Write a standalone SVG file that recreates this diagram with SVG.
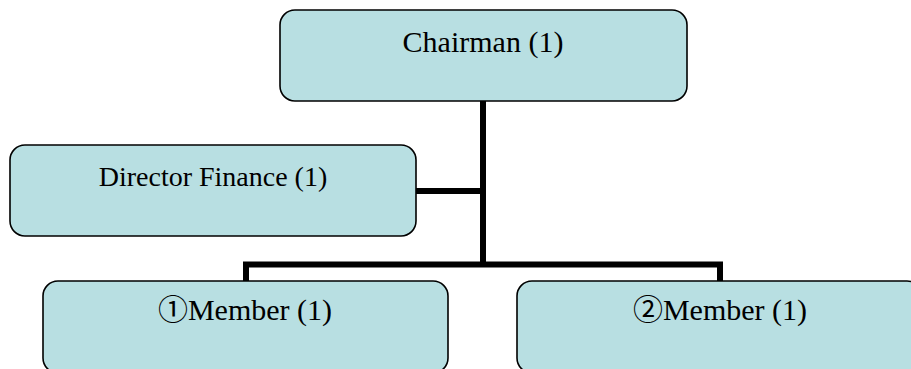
<svg xmlns="http://www.w3.org/2000/svg" width="911" height="369" viewBox="0 0 911 369">
<style>
.box{fill:#b8dfe2;stroke:#000;stroke-width:1.6}
.lbl{font-family:"Liberation Serif","Noto Sans CJK JP",serif;fill:#000;text-anchor:middle}
.con{fill:none;stroke:#000;stroke-width:6;stroke-linejoin:miter}
</style>
<rect width="911" height="369" fill="#fff"/>
<g id="connectors">
<line class="con" x1="483" y1="100" x2="483" y2="264.5"/>
<line class="con" x1="416" y1="191" x2="483" y2="191"/>
<polyline class="con" points="246,281 246,264.5 720,264.5 720,281"/>
</g>
<g id="chairman">
<rect class="box" x="280" y="10" width="407" height="91" rx="15"/>
<text class="lbl" x="483" y="52" font-size="30">Chairman (1)</text>
</g>
<g id="director-finance">
<rect class="box" x="10" y="145" width="406" height="91" rx="15"/>
<text class="lbl" x="213" y="186" font-size="28">Director Finance (1)</text>
</g>
<g id="member-1">
<rect class="box" x="43" y="281" width="405" height="92" rx="15"/>
<text class="lbl" x="245" y="320" font-size="30">①Member (1)</text>
</g>
<g id="member-2">
<rect class="box" x="517" y="281" width="405" height="92" rx="15"/>
<text class="lbl" x="720" y="320" font-size="30">②Member (1)</text>
</g>
</svg>
